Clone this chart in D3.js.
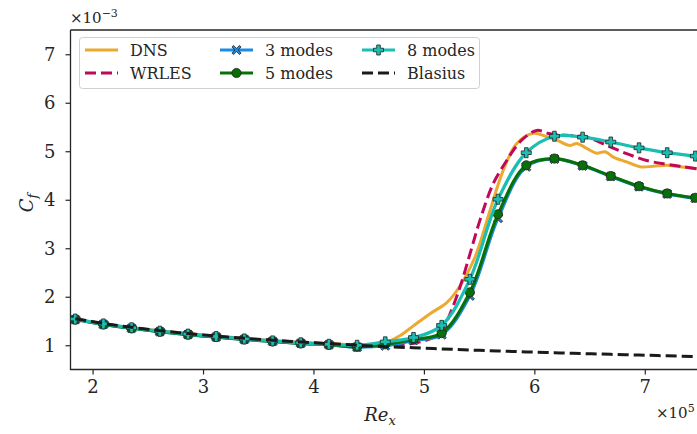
<!DOCTYPE html>
<html>
<head>
<meta charset="utf-8">
<script src="https://cdn.jsdelivr.net/npm/d3@7"></script>
<style>
  body { margin: 0; background: #fff; }
  svg { font-family: "DejaVu Serif", serif; }
</style>
</head>
<body>
<div id="chart"></div>
<script>
// Re_x in units of 1e5, Cf in units of 1e-3
var xModes = [1.843, 2.098, 2.353, 2.609, 2.864, 3.119, 3.374, 3.630, 3.885, 4.140, 4.395, 4.650,
              4.906, 5.161, 5.416, 5.671, 5.927, 6.182, 6.437, 6.692, 6.948, 7.203, 7.458];
var modes3 = [1.53, 1.43, 1.35, 1.28, 1.22, 1.17, 1.12, 1.08, 1.04, 1.01, 0.96, 0.99,
              1.10, 1.22, 2.02, 3.62, 4.68, 4.84, 4.70, 4.48, 4.27, 4.12, 4.03];
var modes5 = [1.53, 1.43, 1.35, 1.28, 1.22, 1.17, 1.12, 1.08, 1.04, 1.01, 0.965, 1.02,
              1.12, 1.25, 2.09, 3.70, 4.71, 4.85, 4.71, 4.49, 4.28, 4.13, 4.04];
var modes8 = [1.54, 1.44, 1.36, 1.29, 1.23, 1.18, 1.13, 1.09, 1.05, 1.02, 1.00, 1.07,
              1.16, 1.41, 2.36, 4.01, 4.97, 5.31, 5.29, 5.19, 5.07, 4.97, 4.90];
var blasius = [1.547, 1.450, 1.369, 1.300, 1.241, 1.189, 1.143, 1.102, 1.065, 1.032, 1.002, 0.974,
               0.948, 0.924, 0.902, 0.882, 0.863, 0.845, 0.828, 0.812, 0.797, 0.782, 0.769];

var xDns = [1.843, 2.098, 2.353, 2.609, 2.864, 3.119, 3.374, 3.630, 3.885, 4.140, 4.395, 4.55, 4.65,
            4.694, 4.785, 4.905, 5.056, 5.207, 5.312, 5.463, 5.599, 5.719, 5.841, 5.991, 6.112,
            6.203, 6.323, 6.384, 6.474, 6.565, 6.640, 6.715, 6.836, 6.957, 7.077, 7.198, 7.318, 7.470];
var cfDns = [1.54, 1.44, 1.36, 1.30, 1.24, 1.19, 1.14, 1.10, 1.06, 1.03, 1.01, 1.01, 1.05,
             1.09, 1.20, 1.40, 1.65, 1.88, 2.17, 2.82, 3.78, 4.61, 5.16, 5.37, 5.30,
             5.23, 5.12, 5.16, 5.06, 4.96, 4.99, 4.88, 4.78, 4.68, 4.69, 4.71, 4.68, 4.64];

var xLes = [1.843, 2.098, 2.353, 2.609, 2.864, 3.119, 3.374, 3.630, 3.885, 4.140, 4.395, 4.650,
            4.785, 4.966, 5.10, 5.176, 5.237, 5.327, 5.418, 5.508, 5.629, 5.750, 5.810, 5.900,
            6.022, 6.142, 6.293, 6.474, 6.655, 6.836, 7.017, 7.198, 7.348, 7.470];
var cfLes = [1.54, 1.44, 1.36, 1.29, 1.23, 1.18, 1.13, 1.10, 1.06, 1.03, 0.99, 0.98,
             1.00, 1.07, 1.18, 1.35, 1.65, 2.20, 2.89, 3.58, 4.34, 4.81, 5.02, 5.26,
             5.43, 5.36, 5.33, 5.29, 5.12, 4.95, 4.81, 4.73, 4.68, 4.64];

var xTicks = [2, 3, 4, 5, 6, 7];
var yTicks = [1, 2, 3, 4, 5, 6, 7];

var W = 697, H = 434;
var pL = 70.5, pR = 700, pT = 30, pB = 369.5;

var svg = d3.select("#chart").append("svg")
    .attr("width", W).attr("height", H);

var x = d3.scaleLinear().domain([1.8, 7.5]).range([pL, pR]);
var y = d3.scaleLinear().domain([0.5, 7.5]).range([pB, pT]);

var ink = "#262626";

// axes
var xAxis = svg.append("g")
    .attr("transform", "translate(0," + pB + ")")
    .call(d3.axisBottom(x).tickValues(xTicks).tickSize(5).tickPadding(6).tickFormat(d3.format("d")));
var yAxis = svg.append("g")
    .attr("transform", "translate(" + pL + ",0)")
    .call(d3.axisLeft(y).tickValues(yTicks).tickSize(5).tickPadding(10).tickFormat(d3.format("d")));

[xAxis, yAxis].forEach(function(a) {
  a.select(".domain").remove();
  a.selectAll(".tick line").attr("stroke", ink).attr("stroke-width", 1.2);
  a.selectAll(".tick text").attr("fill", ink).style("font-size", "18px")
    .style("font-family", "DejaVu Serif");
});

// spines (right spine falls outside the picture)
svg.append("path")
    .attr("d", "M" + pL + "," + pT + "H" + W)
    .attr("stroke", ink).attr("stroke-width", 1.3).attr("fill", "none");
svg.append("path")
    .attr("d", "M" + W + "," + pB + "H" + pL + "V" + pT)
    .attr("stroke", ink).attr("stroke-width", 1.3).attr("fill", "none");

var plot = svg.append("g");
plot.append("clipPath").attr("id", "clip")
  .append("rect").attr("x", pL).attr("y", pT).attr("width", pR - pL).attr("height", pB - pT);
var g = plot.append("g").attr("clip-path", "url(#clip)");

function line(xs, ys) {
  return d3.line()
    .x(function(d, i) { return x(xs[i]); })
    .y(function(d) { return y(d); })
    .curve(d3.curveCatmullRom.alpha(0.5))(ys);
}

var cDns = "#eda92f", cLes = "#c0085a", c3 = "#1a8ce6", c5 = "#087008", c8 = "#19bfb2", cBl = "#1a1a1a";

g.append("path").attr("d", line(xDns, cfDns))
  .attr("fill", "none").attr("stroke", cDns).attr("stroke-width", 3);
g.append("path").attr("d", line(xLes, cfLes))
  .attr("fill", "none").attr("stroke", cLes).attr("stroke-width", 3).attr("stroke-dasharray", "11,5");

function crossPath(s) {
  var a = s * 0.35, b = s;
  return "M" + (-b) + "," + (-b + a) + "L" + (-b + a) + "," + (-b) + "L0," + (-a) + "L" + (b - a) + "," + (-b) +
    "L" + b + "," + (-b + a) + "L" + a + ",0L" + b + "," + (b - a) + "L" + (b - a) + "," + b + "L0," + a +
    "L" + (-b + a) + "," + b + "L" + (-b) + "," + (b - a) + "L" + (-a) + ",0Z";
}
function plusPath(s) {
  var a = s * 0.36, b = s;
  return "M" + (-a) + "," + (-b) + "H" + a + "V" + (-a) + "H" + b + "V" + a + "H" + a + "V" + b +
    "H" + (-a) + "V" + a + "H" + (-b) + "V" + (-a) + "H" + (-a) + "Z";
}

function series(ys, color, marker) {
  g.append("path").attr("d", line(xModes, ys))
    .attr("fill", "none").attr("stroke", color).attr("stroke-width", 3.2);
  var m = g.append("g").selectAll("g").data(ys).enter().append("g")
    .attr("transform", function(d, i) { return "translate(" + x(xModes[i]) + "," + y(d) + ")"; });
  if (marker === "circle") {
    m.append("circle").attr("r", 4.6).attr("fill", color).attr("stroke", "#222").attr("stroke-width", 0.8);
  } else if (marker === "x") {
    m.append("path").attr("d", crossPath(4.6)).attr("fill", color).attr("stroke", "#222").attr("stroke-width", 0.8);
  } else {
    m.append("path").attr("d", plusPath(5)).attr("fill", color).attr("stroke", "#222").attr("stroke-width", 0.8);
  }
}
series(modes3, c3, "x");
series(modes5, c5, "circle");
series(modes8, c8, "plus");

g.append("path").attr("d", line(xModes, blasius))
  .attr("fill", "none").attr("stroke", cBl).attr("stroke-width", 3).attr("stroke-dasharray", "11,5");

// axis labels and offsets
svg.append("text").attr("x", 70).attr("y", 23).attr("fill", ink).style("font-size", "15px")
  .html("×10<tspan dy='-6' font-size='11px'>−3</tspan>");
svg.append("text").attr("x", 656).attr("y", 418).attr("fill", ink).style("font-size", "15px")
  .html("×10<tspan dy='-6' font-size='11px'>5</tspan>");
svg.append("text").attr("transform", "translate(33,203) rotate(-90)").attr("text-anchor", "middle")
  .attr("fill", ink).style("font-size", "18px").style("font-style", "italic")
  .html("C<tspan dy='4' font-size='13px'>f</tspan>");
svg.append("text").attr("x", 380).attr("y", 421).attr("text-anchor", "middle")
  .attr("fill", ink).style("font-size", "18px").style("font-style", "italic")
  .html("Re<tspan dy='4' font-size='13px'>x</tspan>");

// legend
var legend = svg.append("g");
legend.append("rect").attr("x", 79.5).attr("y", 37.5).attr("width", 400).attr("height", 51).attr("rx", 3)
  .attr("fill", "rgba(255,255,255,0.85)").attr("stroke", "#d0d0d0").attr("stroke-width", 1);
var items = [
  {label: "DNS", color: cDns, dash: null, marker: null, cx: 85, cy: 50},
  {label: "WRLES", color: cLes, dash: "11,5", marker: null, cx: 85, cy: 73},
  {label: "3 modes", color: c3, dash: null, marker: "x", cx: 220, cy: 50},
  {label: "5 modes", color: c5, dash: null, marker: "circle", cx: 220, cy: 73},
  {label: "8 modes", color: c8, dash: null, marker: "plus", cx: 362, cy: 50},
  {label: "Blasius", color: cBl, dash: "11,5", marker: null, cx: 362, cy: 73}
];
items.forEach(function(it) {
  var l = legend.append("line").attr("x1", it.cx).attr("x2", it.cx + 33).attr("y1", it.cy).attr("y2", it.cy)
    .attr("stroke", it.color).attr("stroke-width", 3);
  if (it.dash) l.attr("stroke-dasharray", it.dash);
  var mg = legend.append("g").attr("transform", "translate(" + (it.cx + 16.5) + "," + it.cy + ")");
  if (it.marker === "circle") mg.append("circle").attr("r", 4.6).attr("fill", it.color).attr("stroke", "#222").attr("stroke-width", 0.8);
  if (it.marker === "x") mg.append("path").attr("d", crossPath(4.6)).attr("fill", it.color).attr("stroke", "#222").attr("stroke-width", 0.8);
  if (it.marker === "plus") mg.append("path").attr("d", plusPath(5)).attr("fill", it.color).attr("stroke", "#222").attr("stroke-width", 0.8);
  legend.append("text").attr("x", it.cx + 45).attr("y", it.cy + 6).attr("fill", ink)
    .style("font-size", "16px").text(it.label);
});
</script>
</body>
</html>
